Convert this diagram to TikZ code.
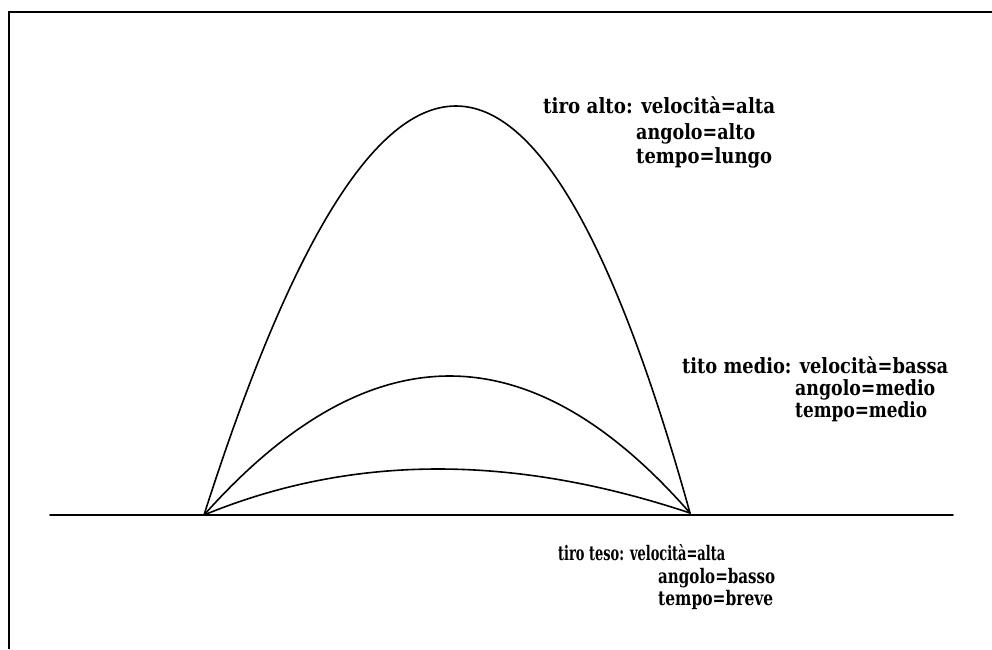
\documentclass[tikz,border=0pt]{standalone}
\usepackage{fontspec}
\usepackage{graphicx}
\setmainfont{DejaVu Serif}
\newcommand{\fitln}[2]{\resizebox{#1pt}{\height}{#2}}
\begin{document}
\begin{tikzpicture}[x=1pt,y=-1pt,
  lbl/.style={anchor=base west,inner sep=0pt,font=\bfseries\fontsize{21}{21}\selectfont},
  lblsm/.style={anchor=base west,inner sep=0pt,font=\bfseries\fontsize{20}{20}\selectfont},
  curve/.style={line width=1.6pt,line cap=round},
  frameline/.style={line width=1.8pt}]
\useasboundingbox (0,0) rectangle (992,649);
% frame (top and left only)
\coordinate (ftl) at (9,12);
\coordinate (ftr) at (992,12);
\coordinate (fbl) at (9,649);
\draw[frameline] (ftr) -- (ftl) -- (fbl);
% ground
\coordinate (g1) at (50,515);
\coordinate (g2) at (953,515);
\draw[curve] (g1) -- (g2);
% launch and landing points
\coordinate (A) at (204,515);
\coordinate (B) at (690,513);
% trajectories
\draw[curve] (A) .. controls (378,-30) and (539,-30) .. (B);
\draw[curve] (A) .. controls (369,330) and (530,330) .. (B);
\draw[curve] (A) .. controls (352,454) and (513,454) .. (B);
% labels
\node[lbl] (a1) at (543,113) {\fitln{232}{tiro alto: velocità=alta}};
\node[lbl] (a2) at (636,139) {\fitln{119}{angolo=alto}};
\node[lbl] (a3) at (636,163) {\fitln{136}{tempo=lungo}};
\node[lbl] (b1) at (682,373) {\fitln{266}{tito medio: velocità=bassa}};
\node[lbl] (b2) at (795,395) {\fitln{140}{angolo=medio}};
\node[lbl] (b3) at (795,417) {\fitln{132}{tempo=medio}};
\node[lblsm] (c1) at (558,560) {\fitln{167}{tiro teso: velocità=alta}};
\node[lblsm] (c2) at (658,583) {\fitln{117}{angolo=basso}};
\node[lblsm] (c3) at (658,605) {\fitln{115}{tempo=breve}};
\end{tikzpicture}
\end{document}
